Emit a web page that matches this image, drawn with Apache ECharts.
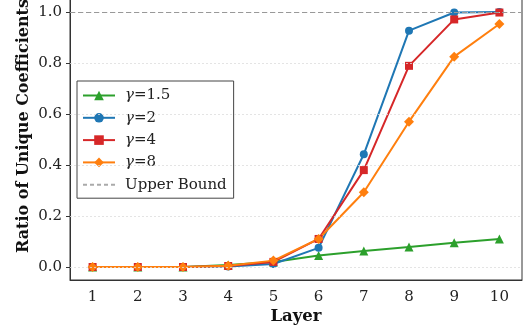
<!DOCTYPE html>
<html>
<head>
<meta charset="utf-8">
<script src="https://cdn.jsdelivr.net/npm/echarts@6/dist/echarts.min.js"></script>
<style>
  html, body { margin: 0; padding: 0; background: #fff; overflow: hidden; }
  /* The plot frame extends above the visible page, so the chart box starts above it */
  #chart { position: absolute; left: 0; top: -28px; width: 525px; height: 361px; }
</style>
</head>
<body>
<div id="chart"></div>
<script>
// Layer indices along the x axis
const layers = ['1', '2', '3', '4', '5', '6', '7', '8', '9', '10'];

// Ratio of unique coefficients per layer, one list per gamma
const gamma15 = [0.000, 0.000, 0.000, 0.008, 0.020, 0.045, 0.063, 0.078, 0.095, 0.110];
const gamma2  = [0.000, 0.000, 0.000, 0.002, 0.012, 0.075, 0.442, 0.927, 0.998, 1.000];
const gamma4  = [0.000, 0.000, 0.000, 0.004, 0.020, 0.110, 0.380, 0.789, 0.971, 0.998];
const gamma8  = [0.000, 0.000, 0.000, 0.005, 0.025, 0.110, 0.293, 0.570, 0.825, 0.953];

// Y tick positions and the bound line
const yTicks = [0.0, 0.2, 0.4, 0.6, 0.8, 1.0];
const upperBound = 1.0;

const serif = 'DejaVu Serif';
const chart = echarts.init(document.getElementById('chart'), null, { renderer: 'canvas' });

const styles = {
  'γ=1.5': { color: '#2ca02c', symbol: 'triangle', size: 9 },
  'γ=2':   { color: '#1f77b4', symbol: 'circle',   size: 8 },
  'γ=4':   { color: '#d62728', symbol: 'rect',     size: 8 },
  'γ=8':   { color: '#ff7f0e', symbol: 'diamond',  size: 10 }
};

function lineSeries(name, data) {
  const s = styles[name];
  return {
    name: name,
    type: 'line',
    data: data,
    color: s.color,
    symbol: s.symbol,
    symbolSize: s.size,
    lineStyle: { width: 2, color: s.color, type: 'solid' },
    itemStyle: { color: s.color, borderWidth: 0 },
    z: 3
  };
}

const gridLines = yTicks.map(v => ({
  yAxis: v,
  lineStyle: { type: [2, 2], color: '#dddddd', width: 0.8 }
}));

chart.setOption({
  animation: false,
  backgroundColor: '#ffffff',
  grid: {
    left: 70, right: 3, top: 0, bottom: 53,
    show: true, borderColor: '#333333', borderWidth: 1, backgroundColor: 'transparent'
  },
  xAxis: {
    type: 'category',
    data: layers,
    boundaryGap: true,
    name: 'Layer',
    nameLocation: 'middle',
    nameGap: 28,
    nameMoveOverlap: false,
    nameTextStyle: { fontFamily: serif, fontWeight: 'bold', fontSize: 16.5, color: '#111' },
    axisLine: { onZero: false, lineStyle: { color: '#333333' } },
    axisTick: { alignWithLabel: true, length: 4, lineStyle: { color: '#333333' } },
    axisLabel: { fontFamily: serif, fontSize: 15, color: '#222', margin: 10 },
    splitLine: { show: false }
  },
  yAxis: {
    type: 'value',
    min: -0.051,
    max: 1.157,
    name: 'Ratio of Unique Coefficients',
    nameLocation: 'middle',
    nameGap: 38,
    nameMoveOverlap: false,
    nameTextStyle: { fontFamily: serif, fontWeight: 'bold', fontSize: 16, color: '#111' },
    axisLine: { show: true, onZero: false, lineStyle: { color: '#333333' } },
    axisTick: { show: true, length: 4, customValues: yTicks, lineStyle: { color: '#333333' } },
    axisLabel: {
      fontFamily: serif, fontSize: 15, color: '#222', margin: 8,
      customValues: yTicks,
      formatter: v => v.toFixed(1)
    },
    splitLine: { show: false }
  },
  legend: {
    orient: 'vertical',
    left: 77,
    top: 109,
    padding: [6, 7, 5, 5],
    itemGap: 5.3,
    itemWidth: 32,
    itemHeight: 12,
    backgroundColor: '#ffffff',
    borderColor: '#444444',
    borderWidth: 1,
    borderRadius: 0,
    textStyle: {
      fontFamily: serif, fontSize: 15, color: '#222', lineHeight: 17,
      padding: [0, 0, 0, 5],
      rich: { g: { fontFamily: serif, fontSize: 15, fontStyle: 'italic', color: '#222', lineHeight: 17 } }
    },
    formatter: n => n.charAt(0) === 'γ' ? '{g|γ}' + n.slice(1) : n,
    data: ['γ=1.5', 'γ=2', 'γ=4', 'γ=8', 'Upper Bound']
  },
  series: [
    {
      name: 'grid',
      type: 'line',
      data: [],
      silent: true,
      markLine: { silent: true, symbol: 'none', label: { show: false }, data: gridLines },
      z: 1
    },
    lineSeries('γ=1.5', gamma15),
    lineSeries('γ=2', gamma2),
    lineSeries('γ=4', gamma4),
    lineSeries('γ=8', gamma8),
    {
      name: 'Upper Bound',
      type: 'line',
      data: [],
      symbol: 'none',
      showSymbol: false,
      color: '#aaaaaa',
      itemStyle: { opacity: 0 },
      lineStyle: { type: [4, 3], color: '#aaaaaa', width: 1 },
      markLine: {
        silent: true,
        symbol: 'none',
        label: { show: false },
        lineStyle: { type: [5, 3], color: '#999999', width: 1 },
        data: [{ yAxis: upperBound }]
      },
      z: 2
    }
  ]
});
</script>
</body>
</html>
